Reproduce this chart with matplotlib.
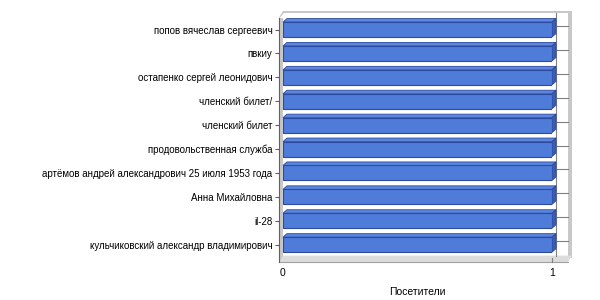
import matplotlib
matplotlib.use('Agg')
import matplotlib.pyplot as plt
from matplotlib.patches import Polygon, Rectangle

# data, top row first
labels = [
    'попов вячеслав сергеевич',
    'пвкиу',
    'остапенко сергей леонидович',
    'членский билет/',
    'членский билет',
    'продовольственная служба',
    'артёмов андрей александрович 25 июля 1953 года',
    'Анна Михайловна',
    'il-28',
    'кульчиковский александр владимирович',
]
visitors = [1, 1, 1, 1, 1, 1, 1, 1, 1, 1]
x_ticks = [0, 1]
x_title = 'Посетители'

plt.rcParams['font.family'] = ['Liberation Sans', 'DejaVu Sans']

W, H = 600, 300
fig = plt.figure(figsize=(6, 3), dpi=100)
fig.patch.set_facecolor('white')

# front plane in pixels
x0_px, x1_px = 283, 552
top_px, bot_px = 17.6, 256.6
ax = fig.add_axes([x0_px / W, 1 - bot_px / H, (x1_px - x0_px) / W, (bot_px - top_px) / H])
n = len(labels)
ax.set_xlim(0, 1)
ax.set_ylim(n - 0.5, -0.5)

ux = (x1_px - x0_px) / 1.0          # px per x unit
uy = (bot_px - top_px) / n          # px per category
def px_x(p):
    return p / ux
def px_y(p):
    return p / uy

dx = px_x(4)      # depth offset to the right
dy = px_y(3.5)    # depth offset upward (y inverted)

wall_gray = '#c8c8c8'
edge_gray = '#a0a0a0'

# back wall
right_x = px_x(572 - x0_px)
top_y = -0.5 - px_y(top_px - 11)
ax.add_patch(Rectangle((0, top_y), right_x, (n - 0.5) - top_y, facecolor='white',
                       edgecolor='none', zorder=0, clip_on=False))
# top band of back wall
ax.add_patch(Polygon([(-px_x(4), -0.5), (0, top_y), (right_x, top_y),
                      (right_x, top_y + px_y(2)), (px_x(1), top_y + px_y(2)),
                      (-px_x(3), -0.5)],
                     closed=True, facecolor=wall_gray, edgecolor='none', zorder=0.5, clip_on=False))
# right band of back wall
ax.add_patch(Rectangle((right_x - px_x(4), top_y), px_x(4), (n - 0.5) - top_y + px_y(1),
                       facecolor=wall_gray, edgecolor='none', zorder=0.5, clip_on=False))
# left wall
ax.add_patch(Rectangle((-px_x(4), -0.5), px_x(4), n + px_y(5.5),
                       facecolor=wall_gray, edgecolor='none', zorder=0.5, clip_on=False))
# floor
floor_y0 = n - 0.5
floor_y1 = n - 0.5 + px_y(5.5)
ax.add_patch(Polygon([(-px_x(4), floor_y1), (right_x - px_x(4), floor_y1),
                      (right_x, floor_y0 - px_y(1)), (0, floor_y0 - px_y(1))],
                     closed=True, facecolor='#dcdcdc', edgecolor='none', zorder=0.6, clip_on=False))
ax.plot([-px_x(4), right_x - px_x(4)], [floor_y1, floor_y1], color=edge_gray, lw=0.8,
        zorder=0.7, clip_on=False)

# gridlines on back wall
for t in x_ticks:
    if t > 0:
        ax.plot([t + dx, t + dx], [top_y + px_y(2), floor_y0 - px_y(1)], color='#808080',
                lw=0.8, zorder=0.8, clip_on=False)
        ax.plot([t, t], [floor_y1 - px_y(4), floor_y1], color='#808080', lw=0.8,
                zorder=0.8, clip_on=False)
for i in range(n):
    ax.plot([dx, right_x - px_x(4)], [i - dy, i - dy], color='#808080', lw=0.8, zorder=0.8,
            clip_on=False)

# bars with fake depth
face = '#4f7bd9'
side = '#3a5cb4'
topc = '#5a86e0'
edge = '#2e4a9c'
h = 15 / uy
for i, v in enumerate(visitors):
    yt = i - h / 2
    yb = i + h / 2
    ax.add_patch(Polygon([(0, yt), (v, yt), (v + dx, yt - dy), (dx, yt - dy)], closed=True,
                         facecolor=topc, edgecolor=edge, lw=0.6, zorder=2, clip_on=False))
    ax.add_patch(Polygon([(v, yt), (v + dx, yt - dy), (v + dx, yb - dy), (v, yb)], closed=True,
                         facecolor=side, edgecolor=edge, lw=0.6, zorder=2, clip_on=False))
ax.barh(range(n), visitors, height=h, color=face, edgecolor=edge, linewidth=0.8, zorder=3)

# axes styling
for s in ['top', 'right']:
    ax.spines[s].set_visible(False)
ax.spines['bottom'].set_visible(False)
ax.spines['left'].set_position(('outward', 3))
ax.spines['left'].set_color('#606060')
ax.spines['left'].set_bounds(-0.5, floor_y1)
ax.patch.set_alpha(0)

ax.set_yticks(range(n))
ax.set_yticklabels(labels, fontsize=7.0)
ax.tick_params(axis='y', length=3, width=0.8, color='#606060', pad=1.5)
ax.set_xticks(x_ticks)
ax.set_xticklabels([str(t) for t in x_ticks], fontsize=7.5)
ax.tick_params(axis='x', length=0, pad=8)
ax.set_xlabel(x_title, fontsize=7.5, labelpad=7)

fig.savefig('out.png', dpi=100)
